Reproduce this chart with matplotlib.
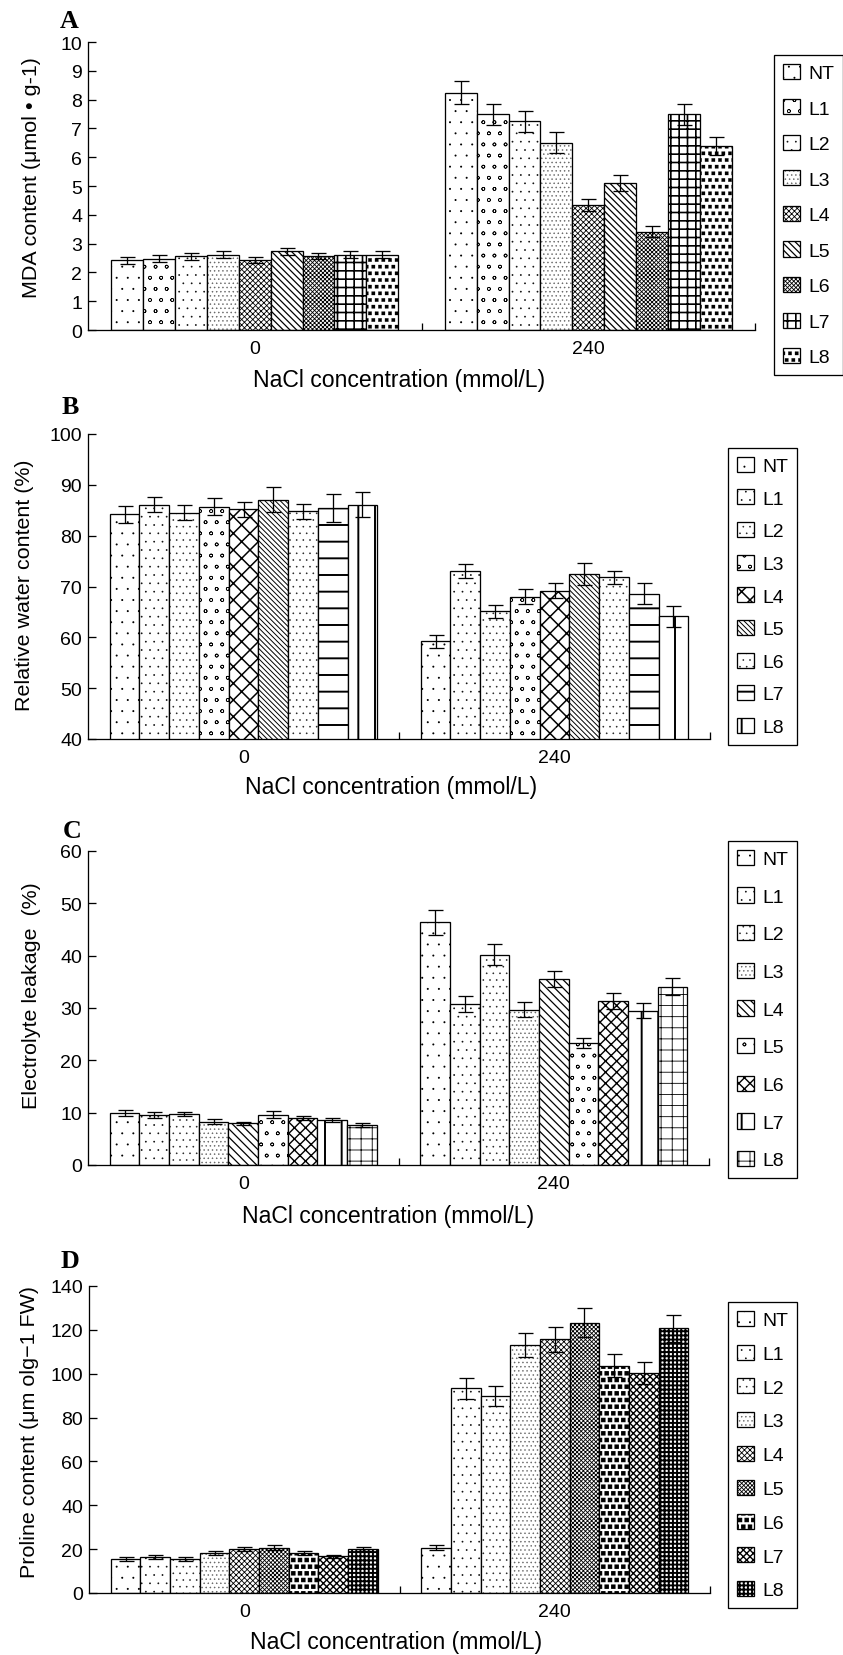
import matplotlib
matplotlib.use('Agg')
import matplotlib.pyplot as plt
import matplotlib.hatch as mhatch
from matplotlib.path import Path
import numpy as np
import types

plt.rcParams['font.family'] = ['Liberation Sans', 'DejaVu Sans']
plt.rcParams['hatch.linewidth'] = 0.4
plt.rcParams['hatch.color'] = 'black'

# hatch tweaks: small stipple dots, small open marks, and '*' drawn as filled squares
mhatch.SmallFilledCircles.size = 0.04
mhatch.SmallCircles.size = 0.14


def _square_init(self, hatch, density):
    self.num_rows = hatch.count('*') * density
    self.shape_vertices = np.array([[-1, -1], [1, -1], [1, 1], [-1, 1], [-1, -1]], float)
    self.shape_codes = np.array([Path.MOVETO, Path.LINETO, Path.LINETO, Path.LINETO,
                                 Path.CLOSEPOLY], dtype=Path.code_type)
    mhatch.Shapes.__init__(self, hatch, density)


mhatch.Stars.__init__ = _square_init
mhatch.Stars.size = 0.25

DPI = 200
W, H = 843, 1656
fig = plt.figure(figsize=(W / DPI, H / DPI), dpi=DPI)


def px(v):
    return v * 72.0 / DPI


# ---------------- data ----------------
lines = ['NT', 'L1', 'L2', 'L3', 'L4', 'L5', 'L6', 'L7', 'L8']
nacl = ['0', '240']

mda_0 = [2.42, 2.48, 2.56, 2.61, 2.42, 2.73, 2.56, 2.61, 2.61]
mda_0_err = [0.12, 0.13, 0.12, 0.12, 0.11, 0.13, 0.11, 0.12, 0.12]
mda_240 = [8.24, 7.49, 7.25, 6.51, 4.34, 5.09, 3.41, 7.49, 6.39]
mda_240_err = [0.40, 0.37, 0.37, 0.35, 0.21, 0.28, 0.19, 0.37, 0.30]

rwc_0 = [84.2, 86.1, 84.5, 85.7, 85.2, 87.1, 84.8, 85.4, 86.1]
rwc_0_err = [1.7, 1.5, 1.5, 1.7, 1.5, 2.5, 1.5, 2.8, 2.5]
rwc_240 = [59.2, 73.1, 65.1, 68.0, 69.2, 72.5, 71.8, 68.6, 64.1]
rwc_240_err = [1.3, 1.4, 1.2, 1.5, 1.4, 2.2, 1.3, 2.1, 2.0]

el_0 = [9.95, 9.6, 9.7, 8.3, 8.0, 9.6, 9.0, 8.6, 7.65]
el_0_err = [0.5, 0.6, 0.35, 0.55, 0.3, 0.65, 0.4, 0.35, 0.3]
el_240 = [46.4, 30.7, 40.2, 29.7, 35.5, 23.3, 31.4, 29.5, 34.1]
el_240_err = [2.4, 1.5, 2.0, 1.5, 1.55, 1.0, 1.5, 1.4, 1.65]

pro_0 = [15.7, 16.4, 15.7, 18.2, 19.9, 20.7, 18.2, 16.7, 19.9]
pro_0_err = [0.9, 1.0, 0.9, 0.9, 0.9, 1.0, 0.9, 0.8, 0.9]
pro_240 = [20.7, 93.3, 89.8, 113.1, 115.7, 123.3, 103.6, 100.3, 120.7]
pro_240_err = [1.3, 4.8, 4.5, 5.6, 5.7, 6.5, 5.2, 4.9, 6.1]

# ---------------- styling per panel ----------------
panels = [
    dict(letter='A', v0=mda_0, e0=mda_0_err, v1=mda_240, e1=mda_240_err,
         ylim=(0, 10), yticks=np.arange(0, 11, 1),
         ylabel='MDA content (μmol • g-1)',
         box=(88, 755, 43, 331),
         hatches=['...', 'ooo', '....', '.' * 8, 'x' * 12, '\\' * 10, 'x' * 16, '++++', '*****'],
         hlw=[0.4, 0.25, 0.4, 0.4, 0.3, 0.45, 0.3, 0.6, 0.1],
         leg=(774, 56), legsp=0.89,
         letter_xy=(69, 22), xlab_xy=(399, 380), ylab_xy=(32, 178)),
    dict(letter='B', v0=rwc_0, e0=rwc_0_err, v1=rwc_240, e1=rwc_240_err,
         ylim=(40, 100), yticks=np.arange(40, 101, 10),
         ylabel='Relative water content (%)',
         box=(88, 710, 435, 740),
         hatches=['...', '....', '.....', 'ooo', 'xxxx', '\\' * 13, '.....', '--', '||'],
         hlw=[0.4, 0.4, 0.4, 0.25, 0.55, 0.35, 0.4, 0.7, 0.7],
         leg=(728, 449), legsp=0.74,
         letter_xy=(70, 408), xlab_xy=(391, 788), ylab_xy=(25, 585)),
    dict(letter='C', v0=el_0, e0=el_0_err, v1=el_240, e1=el_240_err,
         ylim=(0, 60), yticks=np.arange(0, 61, 10),
         ylabel='Electrolyte leakage  (%)',
         box=(88, 709, 852, 1166),
         hatches=['...', '....', '.....', '.' * 8, '\\' * 8, 'ooo', 'x' * 6, '||', '+++'],
         hlw=[0.4, 0.4, 0.4, 0.4, 0.45, 0.25, 0.5, 0.7, 0.3],
         leg=(728, 842), legsp=1.0,
         letter_xy=(72, 832), xlab_xy=(388, 1217), ylab_xy=(32, 996)),
    dict(letter='D', v0=pro_0, e0=pro_0_err, v1=pro_240, e1=pro_240_err,
         ylim=(0, 140), yticks=np.arange(0, 141, 20),
         ylabel='Proline content (μm olg−1 FW)',
         box=(89, 710, 1287, 1594),
         hatches=['...', '....', '.....', '.' * 8, 'x' * 12, 'x' * 16, '*****', 'x' * 10, '+' * 8],
         hlw=[0.4, 0.4, 0.4, 0.4, 0.3, 0.3, 0.4, 0.5, 0.7],
         leg=(728, 1303), legsp=0.8,
         letter_xy=(70, 1261), xlab_xy=(396, 1643), ylab_xy=(30, 1432)),
]

LW = px(1.3)
TICK_FS = px(19.5)
XLAB_FS = px(23)
YLAB_FS = px(21.5)
LEG_FS = px(19.4)
group_width = 0.86
n = len(lines)
bw = group_width / n
xc = np.arange(len(nacl))


def with_hatch_lw(artist, lw):
    """Draw an artist with its own hatch line width."""
    if hasattr(artist, 'set_hatch_linewidth'):
        artist.set_hatch_linewidth(lw)
    orig = artist.draw

    def draw(self, renderer, _orig=orig, _lw=lw):
        with plt.rc_context({'hatch.linewidth': _lw}):
            _orig(renderer)
    artist.draw = types.MethodType(draw, artist)


for p in panels:
    l, r, t, b = p['box']
    ax = fig.add_axes([l / W, 1 - b / H, (r - l) / W, (b - t) / H])
    for i, name in enumerate(lines):
        x = xc + (i - (n - 1) / 2) * bw
        vals = [p['v0'][i], p['v1'][i]]
        errs = [p['e0'][i], p['e1'][i]]
        with plt.rc_context({'hatch.linewidth': p['hlw'][i]}):
            bars = ax.bar(x, vals, bw, color='white', edgecolor='black',
                          linewidth=LW, hatch=p['hatches'][i], label=name, zorder=2)
        for bar in bars:
            with_hatch_lw(bar, p['hlw'][i])
        ax.errorbar(x, vals, yerr=errs, fmt='none', ecolor='black',
                    elinewidth=LW, capsize=px(7.5), capthick=LW, zorder=3)
    ax.set_xlim(-0.5, 1.5)
    ax.set_ylim(*p['ylim'])
    ax.set_yticks(p['yticks'])
    ax.set_xticks(xc)
    ax.set_xticklabels(nacl)
    ax.set_xticks([0.5, 1.5], minor=True)
    ax.tick_params(axis='x', which='major', length=0, pad=px(10), labelsize=TICK_FS)
    ax.tick_params(axis='x', which='minor', direction='in', length=px(7), width=LW)
    ax.tick_params(axis='y', direction='in', length=px(8), width=LW, pad=px(6),
                   labelsize=TICK_FS)
    for s in ['top', 'right']:
        ax.spines[s].set_visible(False)
    for s in ['left', 'bottom']:
        ax.spines[s].set_linewidth(LW)

    ax.set_xlabel('NaCl concentration (mmol/L)', fontsize=XLAB_FS)
    ax.xaxis.set_label_coords((p['xlab_xy'][0] - l) / (r - l), (b - p['xlab_xy'][1]) / (b - t))
    ax.xaxis.label.set_verticalalignment('center')
    ax.set_ylabel(p['ylabel'], fontsize=YLAB_FS)
    ax.yaxis.set_label_coords((p['ylab_xy'][0] - l) / (r - l), (b - p['ylab_xy'][1]) / (b - t))
    ax.yaxis.label.set_verticalalignment('center')

    leg = ax.legend(loc='upper left', bbox_to_anchor=(p['leg'][0] / W, 1 - p['leg'][1] / H),
                    bbox_transform=fig.transFigure, frameon=True, fancybox=False,
                    edgecolor='black', framealpha=1, fontsize=LEG_FS,
                    handlelength=0.88, handleheight=0.82, handletextpad=0.46,
                    borderpad=0.45, labelspacing=p['legsp'], borderaxespad=0)
    leg.get_frame().set_linewidth(LW)
    for hp, lw in zip(leg.get_patches(), p['hlw']):
        with_hatch_lw(hp, lw)

    fig.text(p['letter_xy'][0] / W, 1 - p['letter_xy'][1] / H, p['letter'],
             family=['Liberation Serif', 'DejaVu Serif'], weight='bold',
             fontsize=px(26), ha='center', va='center')

fig.savefig('out.png', dpi=DPI, facecolor='white')
